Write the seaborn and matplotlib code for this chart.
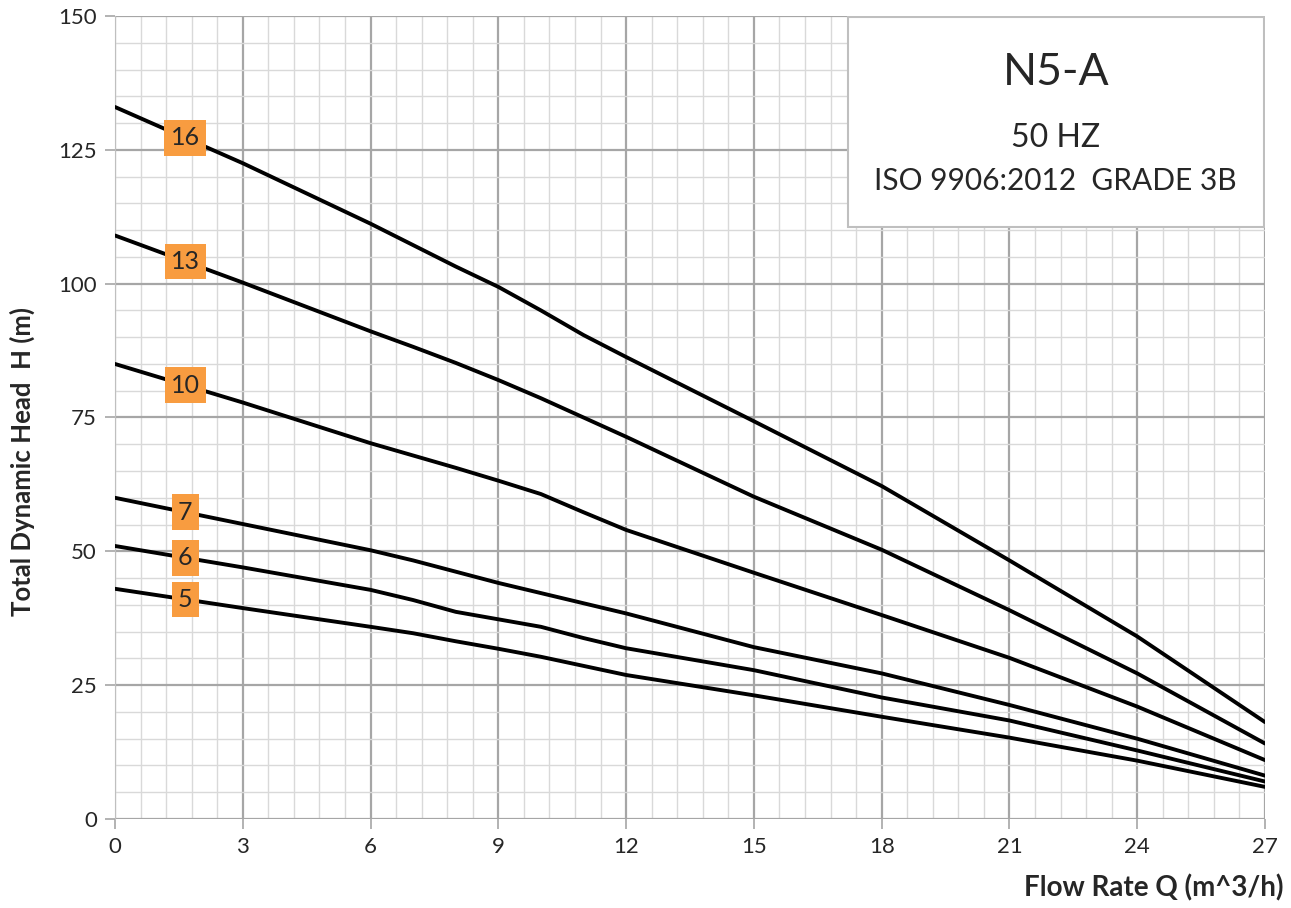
import numpy as np
import pandas as pd
import matplotlib
matplotlib.use("Agg")
import matplotlib.pyplot as plt
import seaborn as sns
from matplotlib.ticker import MultipleLocator

# flow rate points (m^3/h)
flow = [0, 3, 6, 7, 8, 9, 10, 11, 12, 15, 18, 21, 24, 27]

# head curves (m) per stage count
head_16 = [133, 122.5, 111.2, 107.2, 103.2, 99.4, 95.0, 90.4, 86.3, 74.3, 62.2, 48.3, 34.1, 18.1]
head_13 = [109, 100.2, 91.1, 88.2, 85.2, 82.0, 78.6, 75.0, 71.4, 60.2, 50.3, 39.0, 27.2, 14.1]
head_10 = [85, 77.8, 70.2, 67.9, 65.6, 63.2, 60.7, 57.3, 54.0, 46.0, 38.1, 30.1, 21.0, 11.0]
head_7 = [60, 55.1, 50.2, 48.3, 46.2, 44.1, 42.2, 40.3, 38.4, 32.1, 27.2, 21.3, 15.0, 8.1]
head_6 = [51, 47.0, 42.8, 40.9, 38.7, 37.3, 35.9, 33.8, 31.9, 27.8, 22.7, 18.4, 12.8, 7.0]
head_5 = [43, 39.4, 35.9, 34.7, 33.2, 31.8, 30.3, 28.6, 26.9, 23.1, 19.1, 15.2, 10.9, 6.0]

stages = ["16", "13", "10", "7", "6", "5"]
heads = [head_16, head_13, head_10, head_7, head_6, head_5]
label_q = 1.65

rows = []
for s, h in zip(stages, heads):
    for q, v in zip(flow, h):
        rows.append({"stages": s, "Q": q, "H": v})
df = pd.DataFrame(rows)

sns.set_style("white")
plt.rcParams["font.family"] = ["Lato", "DejaVu Sans"]

fig = plt.figure(figsize=(12.91, 9.08), dpi=100)
ax = fig.add_axes([115 / 1291, 89 / 908, 1150 / 1291, 803 / 908])

sns.lineplot(data=df, x="Q", y="H", units="stages", estimator=None,
             color="black", linewidth=2.8, ax=ax, zorder=3)

ax.set_xlim(0, 27)
ax.set_ylim(0, 150)
ax.xaxis.set_major_locator(MultipleLocator(3))
ax.xaxis.set_minor_locator(MultipleLocator(0.6))
ax.yaxis.set_major_locator(MultipleLocator(25))
ax.yaxis.set_minor_locator(MultipleLocator(5))
ax.grid(which="minor", color="#d9d9d9", linewidth=1.0, zorder=0)
ax.grid(which="major", color="#a6a6a6", linewidth=1.6, zorder=1)
ax.set_axisbelow(True)
for sp in ax.spines.values():
    sp.set_visible(False)
ax.spines["left"].set_visible(True)
ax.spines["left"].set_color("#bfbfbf")
ax.tick_params(which="major", direction="out", length=7, width=1.2,
               color="#a6a6a6", labelsize=16, pad=6, left=True, bottom=True)
ax.tick_params(which="minor", length=0)
ax.set_xlabel("")
ax.set_ylabel("")

# stage labels on the curves
for s, h in zip(stages, heads):
    y = np.interp(label_q, flow, h)
    ax.text(label_q, y, s, ha="center", va="center", fontsize=18, zorder=5,
            bbox=dict(boxstyle="square,pad=0.25", facecolor="#f89c40", edgecolor="none"))

# title box
box = plt.Rectangle((0.637, 0.737), 0.362, 0.262, transform=ax.transAxes,
                    facecolor="white", edgecolor="#bfbfbf", linewidth=1.5, zorder=6)
ax.add_patch(box)
ax.text(0.818, 0.93, "N5-A", transform=ax.transAxes, ha="center", va="center",
        fontsize=32, zorder=7)
ax.text(0.818, 0.848, "50 HZ", transform=ax.transAxes, ha="center", va="center",
        fontsize=23, zorder=7)
ax.text(0.818, 0.795, "ISO 9906:2012  GRADE 3B", transform=ax.transAxes, ha="center",
        va="center", fontsize=21.5, zorder=7)

fig.text(1283 / 1291, 1 - 888 / 908, "Flow Rate Q (m^3/h)", ha="right", va="center",
         fontsize=20, fontweight="bold")
fig.text(22 / 1291, 1 - 462 / 908, "Total Dynamic Head  H (m)", ha="center", va="center",
         rotation=90, fontsize=18.5, fontweight="bold")

fig.savefig("out.png", dpi=100)
